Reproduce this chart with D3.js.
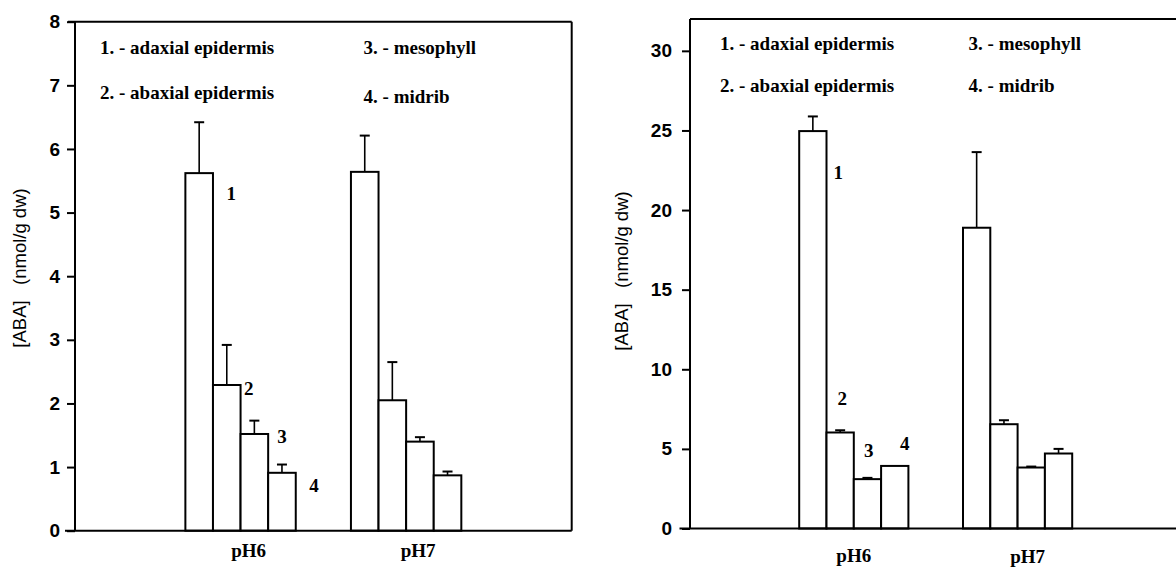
<!DOCTYPE html>
<html>
<head>
<meta charset="utf-8">
<script src="https://cdn.jsdelivr.net/npm/d3@7"></script>
<style>
  html, body { margin: 0; padding: 0; background: #fff; }
  svg { display: block; }
  .tick-label { font-family: "Liberation Sans", Arial, sans-serif; font-weight: bold; font-size: 19px; fill: #000; }
  .ytitle { font-family: "Liberation Sans", Arial, sans-serif; font-size: 18.5px; fill: #000; white-space: pre; }
  .serif { font-family: "Liberation Serif", "Times New Roman", serif; font-weight: bold; font-size: 19px; fill: #000; }
</style>
</head>
<body>
<svg id="chart" width="1176" height="571"></svg>
<script>
// ---------------- DATA ----------------
const categories = ["pH6", "pH7"];
const seriesIds = ["1", "2", "3", "4"];
const legendLabels = ["1. - adaxial epidermis", "2. - abaxial epidermis", "3. - mesophyll", "4. - midrib"];

// Left panel (ABA, nmol/g dw)
const leftTicks = [0, 1, 2, 3, 4, 5, 6, 7, 8];
const leftPH6 = [5.62, 2.29, 1.52, 0.91];
const leftPH6Err = [0.80, 0.63, 0.21, 0.13];
const leftPH7 = [5.64, 2.05, 1.40, 0.87];
const leftPH7Err = [0.57, 0.60, 0.07, 0.06];

// Right panel
const rightTicks = [0, 5, 10, 15, 20, 25, 30];
const rightPH6 = [24.96, 6.03, 3.10, 3.93];
const rightPH6Err = [0.92, 0.14, 0.08, 0.0];
const rightPH7 = [18.89, 6.55, 3.83, 4.71];
const rightPH7Err = [4.75, 0.25, 0.06, 0.29];

const yTitle = "[ABA]   (nmol/g dw)";

// ---------------- DRAW ----------------
const svg = d3.select("#chart");

function drawPanel(cfg) {
  const g = svg.append("g");
  const y = d3.scaleLinear().domain([0, cfg.yMax]).range([cfg.y0, cfg.yTop]);
  const x = d3.scaleBand().domain(categories).range([cfg.xAxis, cfg.xEnd])
    .paddingInner(1 / 3).paddingOuter(2 / 3);
  const xs = d3.scaleBand().domain(seriesIds).range([0, x.bandwidth()]).padding(0);

  const rows = [];
  categories.forEach((c, ci) => {
    cfg.values[ci].forEach((v, si) => {
      rows.push({ cat: c, s: seriesIds[si], v: v, e: cfg.errors[ci][si] });
    });
  });

  // Bars
  g.selectAll("rect.bar").data(rows).join("rect")
    .attr("class", "bar")
    .attr("x", d => x(d.cat) + xs(d.s))
    .attr("width", xs.bandwidth())
    .attr("y", d => y(d.v))
    .attr("height", d => y(0) - y(d.v))
    .attr("fill", "#fff").attr("stroke", "#000").attr("stroke-width", 2);

  // Error bars
  const eb = rows.filter(d => d.e > 0);
  g.selectAll("line.err").data(eb).join("line")
    .attr("x1", d => x(d.cat) + xs(d.s) + xs.bandwidth() / 2)
    .attr("x2", d => x(d.cat) + xs(d.s) + xs.bandwidth() / 2)
    .attr("y1", d => y(d.v)).attr("y2", d => y(d.v + d.e))
    .attr("stroke", "#000").attr("stroke-width", 1.6);
  g.selectAll("line.cap").data(eb).join("line")
    .attr("x1", d => x(d.cat) + xs(d.s) + xs.bandwidth() / 2 - 5)
    .attr("x2", d => x(d.cat) + xs(d.s) + xs.bandwidth() / 2 + 5)
    .attr("y1", d => y(d.v + d.e)).attr("y2", d => y(d.v + d.e))
    .attr("stroke", "#000").attr("stroke-width", 2);

  // Y axis
  const yAxis = d3.axisLeft(y).tickValues(cfg.ticks).tickSize(cfg.tickLen).tickPadding(cfg.tickPad).tickFormat(d3.format("d"));
  const ya = g.append("g").attr("transform", `translate(${cfg.xAxis},0)`).call(yAxis);
  ya.select(".domain").remove();
  ya.selectAll(".tick line").attr("stroke", "#000").attr("stroke-width", 2);
  ya.selectAll(".tick text").attr("class", "tick-label").attr("font-size", null).attr("font-family", null);

  // Frame: y axis line, top border, right border, baseline
  g.append("line").attr("x1", cfg.xAxis).attr("x2", cfg.xAxis)
    .attr("y1", cfg.frameTop).attr("y2", y(0)).attr("stroke", "#000").attr("stroke-width", 2);
  g.append("line").attr("x1", cfg.topStart).attr("x2", cfg.frameRight)
    .attr("y1", cfg.frameTop).attr("y2", cfg.frameTop).attr("stroke", "#000").attr("stroke-width", 2);
  if (cfg.frameRight < 1176) {
    g.append("line").attr("x1", cfg.frameRight).attr("x2", cfg.frameRight)
      .attr("y1", cfg.frameTop).attr("y2", y(0)).attr("stroke", "#000").attr("stroke-width", 2);
  }
  g.append("line").attr("x1", cfg.baseStart).attr("x2", cfg.frameRight)
    .attr("y1", y(0)).attr("y2", y(0)).attr("stroke", "#000").attr("stroke-width", 2);

  // Category labels
  g.selectAll("text.cat").data(categories).join("text")
    .attr("class", "serif")
    .attr("text-anchor", "middle")
    .attr("x", (d, i) => x(d) + x.bandwidth() / 2 + cfg.catDx[i])
    .attr("y", (d, i) => cfg.catY[i])
    .attr("dy", "0.35em")
    .text(d => d);

  // Bar number labels (first group)
  g.selectAll("text.num").data(seriesIds).join("text")
    .attr("class", "serif")
    .attr("text-anchor", "middle")
    .attr("x", (d, i) => x(categories[0]) + xs(d) + xs.bandwidth() / 2 + cfg.numDx[i])
    .attr("y", (d, i) => y(cfg.numAt[i]))
    .attr("dy", "0.35em")
    .text(d => d);

  // Legend
  g.selectAll("text.leg").data(legendLabels).join("text")
    .attr("class", "serif")
    .attr("x", (d, i) => cfg.legX[Math.floor(i / 2)])
    .attr("y", (d, i) => cfg.legY[i])
    .attr("dy", "0.35em")
    .text(d => d);

  // Y title
  g.append("text").attr("class", "ytitle")
    .attr("transform", `translate(${cfg.titleX},${cfg.titleY}) rotate(-90)`)
    .attr("text-anchor", "middle").attr("dy", "0.35em")
    .text(yTitle);
}

drawPanel({
  values: [leftPH6, leftPH7], errors: [leftPH6Err, leftPH7Err],
  ticks: leftTicks, yMax: 8, y0: 530.7, yTop: 21.7,
  xAxis: 75, xEnd: 571.7, frameTop: 21.7, frameRight: 571.7, topStart: 68, baseStart: 65,
  tickLen: 8, tickPad: 7,
  catDx: [8, 12], catY: [550, 550],
  numDx: [32, 22, 27.6, 32], numAt: [5.30, 2.23, 1.49, 0.72],
  legX: [100, 363.6], legY: [47.7, 92.7, 47.7, 96.7],
  titleX: 20, titleY: 268
});

drawPanel({
  values: [rightPH6, rightPH7], errors: [rightPH6Err, rightPH7Err],
  ticks: rightTicks, yMax: 32, y0: 528.5, yTop: 19,
  xAxis: 690, xEnd: 1181.4, frameTop: 19, frameRight: 1180, topStart: 690, baseStart: 679.5,
  tickLen: 8, tickPad: 10,
  catDx: [0, 10], catY: [555, 556],
  numDx: [25.5, 2, 1.4, 10], numAt: [22.35, 8.16, 4.92, 5.33],
  legX: [720, 968.6], legY: [43.3, 85, 43.3, 85],
  titleX: 622, titleY: 271
});
</script>
</body>
</html>
